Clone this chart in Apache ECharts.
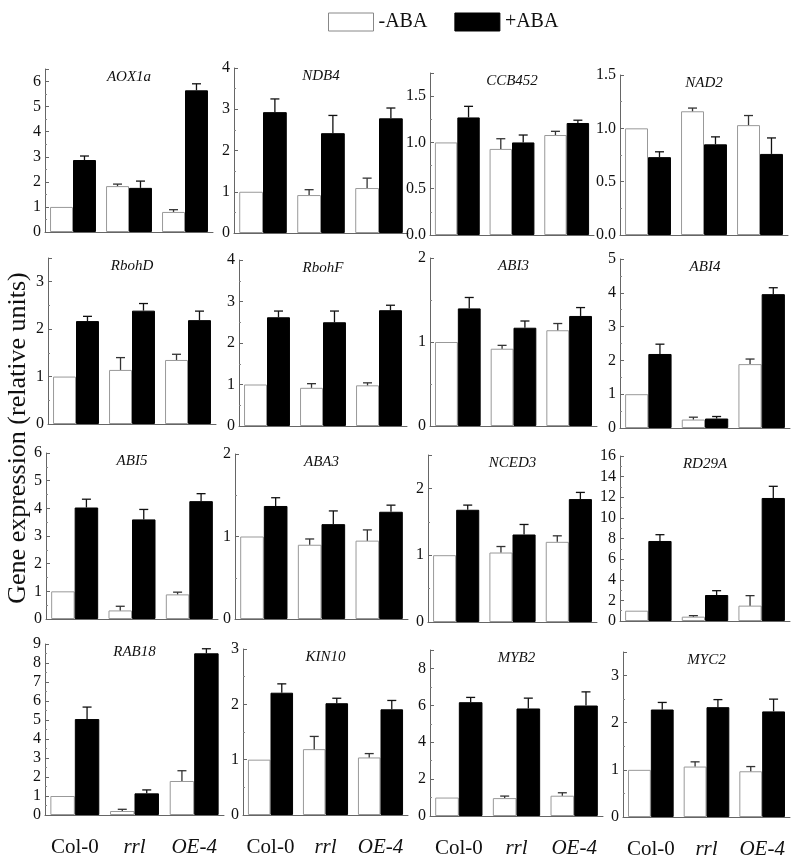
<!DOCTYPE html>
<html><head><meta charset="utf-8">
<script src="https://cdn.jsdelivr.net/npm/echarts@6/dist/echarts.min.js"></script>
<style>html,body{margin:0;padding:0;background:#fff}#c{width:800px;height:863px}</style>
</head><body><div id="c"></div>
<script>
// ---------- DATA ----------
const categories = ['Col-0', 'rrl', 'OE-4'];
const genes = ['AOX1a','NDB4','CCB452','NAD2','RbohD','RbohF','ABI3','ABI4','ABI5','ABA3','NCED3','RD29A','RAB18','KIN10','MYB2','MYC2'];
const minusABA = [
  [1.0, 1.83, 0.80], [1.0, 0.92, 1.09], [1.0, 0.93, 1.08], [1.0, 1.16, 1.03],
  [1.0, 1.14, 1.35], [1.0, 0.92, 0.98], [1.0, 0.92, 1.14], [1.0, 0.25, 1.89],
  [1.0, 0.31, 0.89], [1.0, 0.90, 0.95], [1.0, 1.04, 1.20], [1.0, 0.42, 1.49],
  [1.0, 0.21, 1.79], [1.0, 1.19, 1.04], [1.0, 0.97, 1.10], [1.0, 1.07, 0.97]
];
const minusErr = [
  [0, 0.08, 0.09], [0, 0.13, 0.24], [0, 0.11, 0.04], [0, 0.03, 0.09],
  [0, 0.26, 0.12], [0, 0.10, 0.06], [0, 0.04, 0.08], [0, 0.07, 0.15],
  [0, 0.15, 0.08], [0, 0.07, 0.13], [0, 0.09, 0.09], [0, 0.10, 0.97],
  [0, 0.09, 0.54], [0, 0.23, 0.07], [0, 0.11, 0.16], [0, 0.10, 0.10]
];
const plusABA = [
  [2.87, 1.76, 5.65], [2.93, 2.42, 2.78], [1.27, 1.00, 1.21], [0.73, 0.85, 0.76],
  [2.17, 2.39, 2.19], [2.62, 2.50, 2.79], [1.40, 1.17, 1.31], [2.19, 0.28, 3.96],
  [4.03, 3.60, 4.26], [1.37, 1.15, 1.30], [1.68, 1.31, 1.84], [7.76, 2.52, 11.93],
  [5.05, 1.14, 8.51], [2.21, 2.02, 1.91], [6.17, 5.83, 5.99], [2.28, 2.33, 2.24]
];
const plusErr = [
  [0.16, 0.27, 0.26], [0.32, 0.43, 0.25], [0.12, 0.08, 0.03], [0.05, 0.07, 0.15],
  [0.10, 0.15, 0.19], [0.15, 0.27, 0.12], [0.13, 0.08, 0.10], [0.29, 0.06, 0.19],
  [0.30, 0.36, 0.27], [0.10, 0.16, 0.08], [0.07, 0.15, 0.10], [0.61, 0.42, 1.13],
  [0.63, 0.18, 0.24], [0.16, 0.09, 0.16], [0.26, 0.56, 0.74], [0.15, 0.16, 0.26]
];
const yMax = [6.5, 4, 1.75, 1.5, 3.5, 4, 2, 5, 6, 2, 2.5, 16, 9, 3, 9, 3.5];
const yInterval = [1, 1, 0.5, 0.5, 1, 1, 1, 1, 1, 1, 1, 2, 1, 1, 2, 1];
const yDecimals = [0, 0, 1, 1, 0, 0, 0, 0, 0, 0, 0, 0, 0, 0, 0, 0];
const seriesNames = ['-ABA', '+ABA'];
const yTitle = 'Gene expression (relative units)';

// ---------- LAYOUT (pixel boxes: left, top, right, bottom of each plot) ----------
const boxes = [
  [45, 69, 213, 232], [234, 68, 408, 233], [430, 73, 594, 235], [620, 75, 788, 235],
  [48, 258, 216, 424], [239, 260, 407, 426], [430, 258, 597, 426], [620, 259, 790, 428],
  [46, 453, 218, 619], [235, 454, 408, 619], [428, 455, 597, 622], [620, 456, 790, 621],
  [45, 644, 224, 815], [243, 649, 408, 815], [430, 650, 603, 816], [623, 652, 790, 817]
];
const BAR_RATIO = 0.41;
const SERIF = 'Liberation Serif';
const AXIS_COLOR = '#666';

const grids = [], xAxes = [], yAxes = [], series = [], graphics = [];

function errRender(color) {
  return function (params, api) {
    const ci = api.value(0), v = api.value(1), e = api.value(2), side = api.value(3);
    if (!e) return null;
    const band = api.size([1, 0])[0];
    const off = side * band * BAR_RATIO / 2;
    const p0 = api.coord([ci, v]);
    const p1 = api.coord([ci, v + e]);
    const x = p0[0] + off;
    const cap = 4.5;
    const st = { stroke: color, lineWidth: 1.3 };
    return {
      type: 'group',
      children: [
        { type: 'line', shape: { x1: x, y1: p0[1], x2: x, y2: p1[1] }, style: st },
        { type: 'line', shape: { x1: x - cap, y1: p1[1], x2: x + cap, y2: p1[1] }, style: st }
      ]
    };
  };
}

genes.forEach((g, i) => {
  const [l, t, r, b] = boxes[i];
  grids.push({ left: l, top: t, width: r - l, height: b - t, containLabel: false });
  const bottomRow = i >= 12;
  xAxes.push({
    type: 'category', gridIndex: i, data: categories,
    axisLine: { show: true, lineStyle: { color: AXIS_COLOR, width: 1 } },
    axisTick: { show: false },
    axisLabel: {
      show: bottomRow, margin: 22, interval: 0,
      formatter: v => v === 'Col-0' ? '{n|' + v + '}' : '{i|' + v + '}',
      rich: {
        n: { fontFamily: SERIF, fontSize: 21, color: '#111' },
        i: { fontFamily: SERIF, fontSize: 21, fontStyle: 'italic', color: '#111' }
      }
    },
    splitLine: { show: false }
  });
  const maxIsTick = Math.abs(yMax[i] / yInterval[i] - Math.round(yMax[i] / yInterval[i])) < 1e-9;
  yAxes.push({
    type: 'value', gridIndex: i, min: 0, max: yMax[i], interval: yInterval[i],
    axisLine: { show: true, lineStyle: { color: AXIS_COLOR, width: 1 } },
    axisTick: { show: true, inside: true, length: 4, lineStyle: { color: AXIS_COLOR } },
    minorTick: { show: true, splitNumber: 2, length: 2, lineStyle: { color: '#888' } },
    splitLine: { show: false },
    axisLabel: {
      margin: 4, fontFamily: SERIF, fontSize: 16, color: '#111',
      showMaxLabel: maxIsTick,
      formatter: v => v.toFixed(yDecimals[i])
    }
  });
  series.push({
    type: 'bar', name: seriesNames[0], xAxisIndex: i, yAxisIndex: i,
    data: minusABA[i], barWidth: (BAR_RATIO * 100) + '%', barGap: '0%',
    itemStyle: { color: '#fff', borderColor: '#999', borderWidth: 1 },
    silent: true
  });
  series.push({
    type: 'bar', name: seriesNames[1], xAxisIndex: i, yAxisIndex: i,
    data: plusABA[i], barWidth: (BAR_RATIO * 100) + '%', barGap: '0%',
    itemStyle: { color: '#000', borderColor: '#000', borderWidth: 1 },
    silent: true
  });
  series.push({
    type: 'custom', xAxisIndex: i, yAxisIndex: i, z: 5, silent: true,
    renderItem: errRender('#333'),
    data: minusABA[i].map((v, k) => [k, v, minusErr[i][k], -1])
  });
  series.push({
    type: 'custom', xAxisIndex: i, yAxisIndex: i, z: 5, silent: true,
    renderItem: errRender('#111'),
    data: plusABA[i].map((v, k) => [k, v, plusErr[i][k], 1])
  });
  graphics.push({
    type: 'text', x: (l + r) / 2, y: t + 8, silent: true,
    style: { text: g, font: 'italic 15px "Liberation Serif"', fill: '#111', textAlign: 'center', textVerticalAlign: 'middle' }
  });
});

graphics.push({
  type: 'text', x: 18, y: 438, rotation: Math.PI / 2, silent: true,
  style: { text: yTitle, font: '26px "Liberation Serif"', fill: '#111', textAlign: 'center', textVerticalAlign: 'middle' }
});

const chart = echarts.init(document.getElementById('c'), null, { renderer: 'canvas' });
chart.setOption({
  animation: false,
  backgroundColor: '#fff',
  legend: {
    left: 323, top: 7, icon: 'rect', itemWidth: 45, itemHeight: 18, itemGap: 27,
    selectedMode: false,
    data: [
      { name: seriesNames[0], itemStyle: { color: '#fff', borderColor: '#888', borderWidth: 1 } },
      { name: seriesNames[1], itemStyle: { color: '#000', borderColor: '#000', borderWidth: 1 } }
    ],
    textStyle: { fontFamily: SERIF, fontSize: 20, color: '#111' }
  },
  grid: grids, xAxis: xAxes, yAxis: yAxes, series: series, graphic: graphics
});
</script></body></html>
